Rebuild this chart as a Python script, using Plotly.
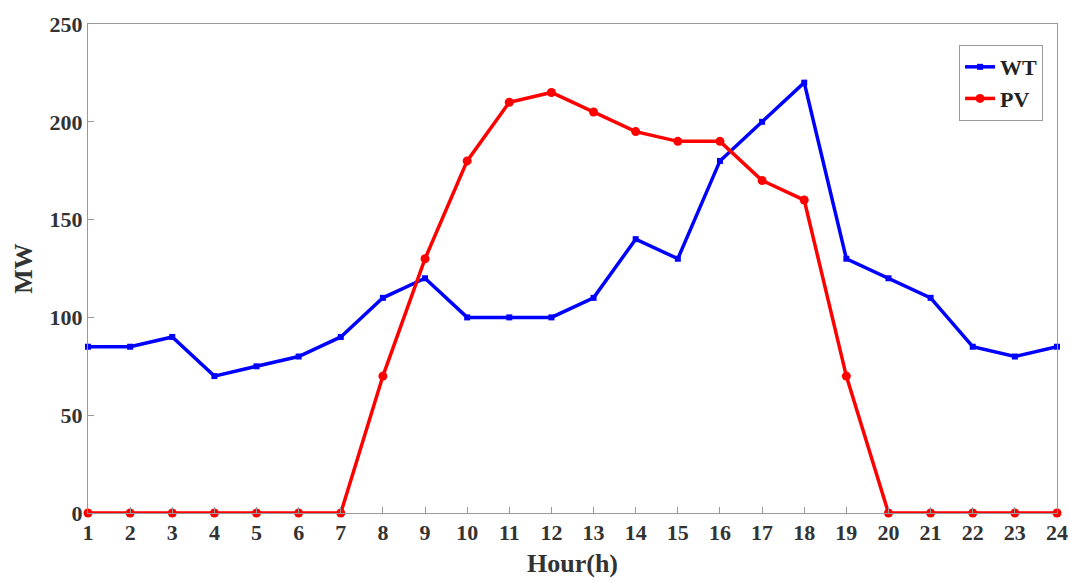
import plotly.graph_objects as go

hours = list(range(1, 25))
wt = [85, 85, 90, 70, 75, 80, 90, 110, 120, 100, 100, 100, 110, 140, 130, 180, 200, 220, 130, 120, 110, 85, 80, 85]
pv = [0, 0, 0, 0, 0, 0, 0, 70, 130, 180, 210, 215, 205, 195, 190, 190, 170, 160, 70, 0, 0, 0, 0, 0]
y_ticks = [0, 50, 100, 150, 200, 250]

FONT = "Palatino Linotype, Book Antiqua, Liberation Serif, serif"

fig = go.Figure()
fig.add_trace(go.Scatter(x=hours, y=wt, name="<b>WT</b>", mode="lines+markers",
                         line=dict(color="#0000ff", width=3.5),
                         marker=dict(symbol="square", size=6, color="#0000ff"),
                         cliponaxis=False))
fig.add_trace(go.Scatter(x=hours, y=pv, name="<b>PV</b>", mode="lines+markers",
                         line=dict(color="#ff0000", width=3.5),
                         marker=dict(symbol="circle", size=9, color="#ff0000"),
                         cliponaxis=False))

axis_common = dict(showline=True, linecolor="#999999", linewidth=1, mirror=True,
                   ticks="inside", ticklen=6, tickcolor="#999999", showgrid=False,
                   zeroline=False, automargin=False,
                   tickfont=dict(family=FONT, size=22, color="#333333"))

fig.update_xaxes(range=[1, 24], tickvals=hours, ticktext=[f"<b>{h}</b>" for h in hours],
                 title=dict(text="<b>Hour(h)</b>", font=dict(family=FONT, size=26, color="#333333"), standoff=9),
                 **axis_common)
fig.update_yaxes(range=[0, 250], tickvals=y_ticks, ticktext=[f"<b>{v}</b>" for v in y_ticks],
                 title=dict(text="<b>MW</b>", font=dict(family=FONT, size=26, color="#333333"), standoff=9),
                 **axis_common)

fig.update_layout(
    width=1070, height=581,
    margin=dict(l=88, r=13, t=24, b=68, autoexpand=False),
    plot_bgcolor="white", paper_bgcolor="white",
    font=dict(family=FONT, color="#333333"),
    legend=dict(x=0.9856, y=0.957, xanchor="right", yanchor="top",
                bordercolor="#999999", borderwidth=1, bgcolor="white",
                font=dict(family=FONT, size=22, color="#222222"),
                itemwidth=30, tracegroupgap=0),
)

fig.write_html("out.html", config={"displayModeBar": False},
               post_script="document.body.style.margin='0';document.body.style.overflow='hidden';")
